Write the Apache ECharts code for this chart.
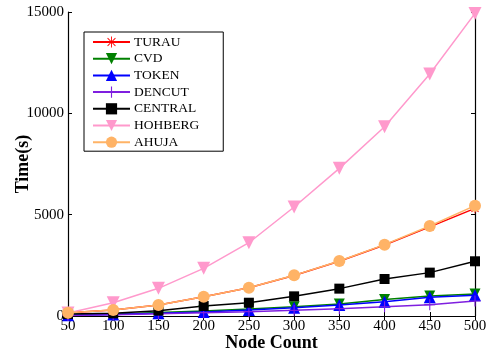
<!DOCTYPE html>
<html>
<head>
<meta charset="utf-8">
<script src="https://cdn.jsdelivr.net/npm/echarts@6/dist/echarts.min.js"></script>
<style>
  html, body { margin: 0; padding: 0; background: #fff; }
  #chart { width: 495px; height: 359px; }
</style>
</head>
<body>
<div id="chart"></div>
<script>
// Node counts on the x axis
const nodeCounts = [50, 100, 150, 200, 250, 300, 350, 400, 450, 500];

// Execution time (s) per algorithm
const turau   = [160, 295, 540, 950, 1395, 2000, 2700, 3500, 4400, 5310];
const cvd     = [40, 90, 170, 250, 345, 460, 590, 820, 985, 1085];
const token   = [40, 70, 130, 200, 296, 410, 543, 707, 920, 1020];
const dencut  = [30, 60, 110, 165, 214, 280, 362, 460, 560, 740];
const central = [100, 130, 265, 495, 655, 970, 1350, 1825, 2140, 2700];
const hohberg = [150, 656, 1366, 2353, 3616, 5380, 7286, 9340, 11940, 14930];
const ahuja   = [163, 296, 543, 953, 1398, 2006, 2713, 3520, 4440, 5443];

const yTicks = [0, 5000, 10000, 15000];

const serif = '"Liberation Serif", "DejaVu Serif", serif';

// Thin-stroke glyphs drawn as filled paths
const plusPath = 'path://M45,0H55V45H100V55H55V100H45V55H0V45H45Z';
const starPath = 'path://M46,0H54V40L82,12L88,18L60,46H100V54H60L88,82L82,88L54,60V100H46V60L18,88L12,82L40,54H0V46H40L12,18L18,12L46,40Z';

function pair(vals) {
  return nodeCounts.map((n, i) => [n, vals[i]]);
}

function mkSeries(name, vals, color, symbol, size, rotate) {
  return {
    name: name,
    type: 'line',
    data: pair(vals),
    symbol: symbol,
    symbolSize: size,
    symbolRotate: rotate || 0,
    showAllSymbol: true,
    lineStyle: { color: color, width: 1.5 },
    itemStyle: { color: color, borderWidth: 0 },
    emphasis: { disabled: true },
    animation: false
  };
}

const chart = echarts.init(document.getElementById('chart'), null, { renderer: 'canvas' });

const axisCommon = {
  axisLine: { show: true, lineStyle: { color: '#000', width: 1.2 } },
  axisTick: { show: true, inside: true, length: 4, lineStyle: { color: '#000' } },
  splitLine: { show: false }
};

chart.setOption({
  backgroundColor: '#fff',
  animation: false,
  grid: { left: 68, right: 20, top: 12, bottom: 43, containLabel: false, outerBoundsMode: 'none' },
  legend: {
    orient: 'vertical',
    left: 84,
    top: 32,
    padding: [3, 24, 2, 8],
    itemWidth: 37,
    itemHeight: 14,
    itemGap: 2.7,
    backgroundColor: '#fff',
    borderColor: '#000',
    borderWidth: 1,
    textStyle: { fontFamily: serif, fontSize: 13.5, color: '#000', padding: [0, 0, 0, -1] },
    data: ['TURAU', 'CVD', 'TOKEN', 'DENCUT', 'CENTRAL', 'HOHBERG', 'AHUJA']
  },
  xAxis: [
    Object.assign({
      type: 'value',
      min: 50, max: 500, interval: 50,
      name: 'Node Count',
      nameLocation: 'middle',
      nameGap: 18,
      nameMoveOverlap: false,
      nameTextStyle: { fontFamily: serif, fontSize: 18, fontWeight: 'bold', color: '#000' },
      axisLabel: { fontFamily: serif, fontSize: 15, color: '#000', margin: 3 }
    }, axisCommon),
    Object.assign({
      type: 'value', position: 'top',
      min: 50, max: 500, interval: 50,
      axisLabel: { show: false }
    }, axisCommon)
  ],
  yAxis: [
    Object.assign({
      type: 'value',
      min: yTicks[0], max: yTicks[yTicks.length - 1], interval: yTicks[1] - yTicks[0],
      name: 'Time(s)',
      nameLocation: 'middle',
      nameGap: 36,
      nameMoveOverlap: false,
      nameRotate: 90,
      nameTextStyle: { fontFamily: serif, fontSize: 18, fontWeight: 'bold', color: '#000' },
      axisLabel: { fontFamily: serif, fontSize: 15, color: '#000', margin: 4, formatter: v => String(v) }
    }, axisCommon),
    Object.assign({
      type: 'value', position: 'right',
      min: yTicks[0], max: yTicks[yTicks.length - 1], interval: yTicks[1] - yTicks[0],
      axisLabel: { show: false }
    }, axisCommon)
  ],
  series: [
    mkSeries('TURAU', turau, '#ff0000', starPath, 10),
    mkSeries('CVD', cvd, '#008000', 'triangle', 11, 180),
    mkSeries('TOKEN', token, '#0000ff', 'triangle', 12),
    mkSeries('DENCUT', dencut, '#7f1fdf', plusPath, 11),
    mkSeries('CENTRAL', central, '#000000', 'rect', 10),
    mkSeries('HOHBERG', hohberg, '#ff99cc', 'triangle', 13, 180),
    mkSeries('AHUJA', ahuja, '#ffb366', 'circle', 12)
  ]
});
</script>
</body>
</html>
